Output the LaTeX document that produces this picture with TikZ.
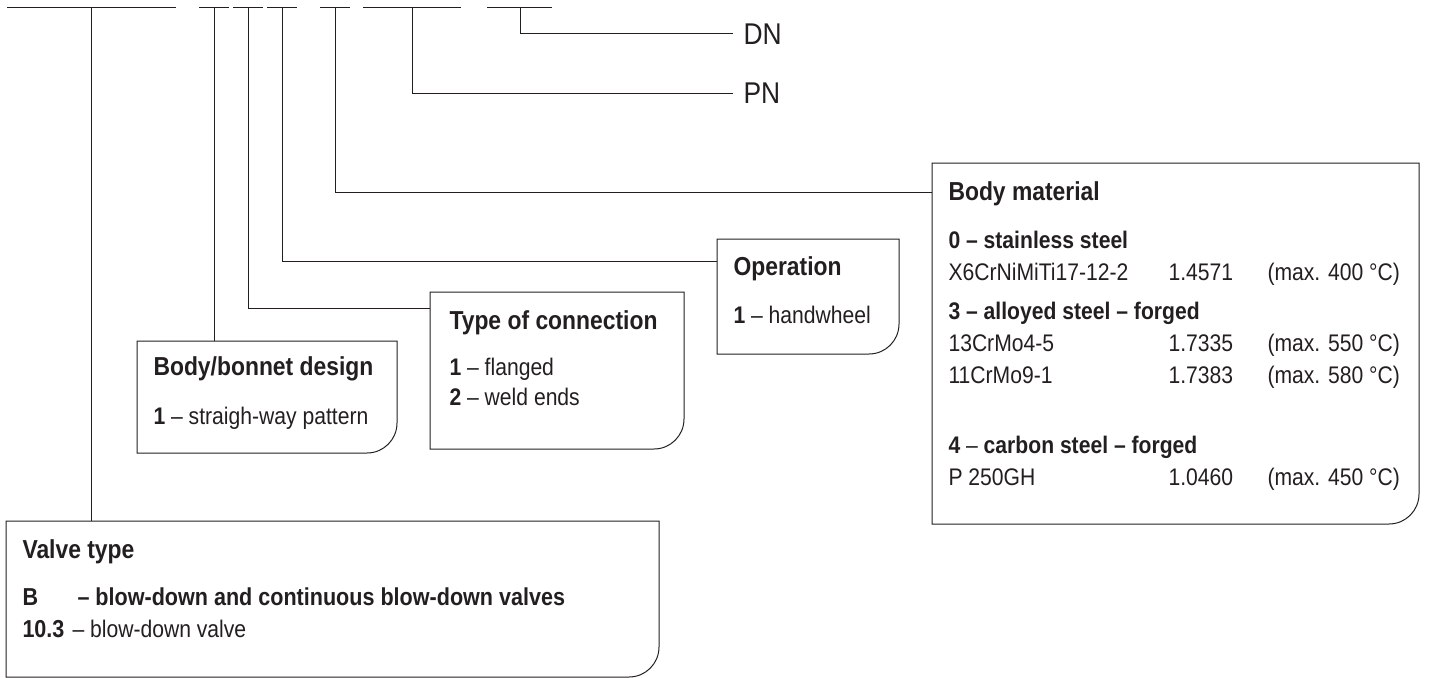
\documentclass[tikz,border=0pt]{standalone}
\usepackage{fontspec}
\setmainfont[FakeStretch=0.88]{Liberation Sans}
\definecolor{ink}{HTML}{231F20}

\begin{document}
\begin{tikzpicture}[
    x=1pt, y=1pt,
    color=ink, line width=1pt,
    head/.style={font=\fontsize{26}{30}\selectfont\bfseries, anchor=base west, inner sep=0pt},
    entry/.style={font=\fontsize{24}{28}\selectfont, anchor=base west, inner sep=0pt},
    code/.style={font=\fontsize{30}{36}\selectfont, anchor=west, inner xsep=10pt, inner ysep=0pt},
    panel/.style={anchor=north west, inner sep=0pt}
]
    \useasboundingbox (0,0) rectangle (1431,-677);

    % Type code bar (one dash per code position)
    \draw (7,-8) -- (176,-8);
    \draw (199,-8) -- (229,-8);
    \draw (233,-8) -- (263,-8);
    \draw (267,-8) -- (297,-8);
    \draw (320,-8) -- (350,-8);
    \draw (363,-8) -- (461,-8);
    \draw (487,-8) -- (552,-8);

    \coordinate (drop1) at (91,-8);
    \coordinate (drop2) at (214,-8);
    \coordinate (drop3) at (248,-8);
    \coordinate (drop4) at (282,-8);
    \coordinate (drop5) at (335,-8);
    \coordinate (drop6) at (412,-8);
    \coordinate (drop7) at (520,-8);

    % Panels (only the lower right corner is rounded)
    \node[panel, minimum width=652pt, minimum height=155pt] (valve) at (6,-521) {};
    \node[panel, minimum width=259pt, minimum height=111pt] (bonnet) at (137,-341) {};
    \node[panel, minimum width=253pt, minimum height=156pt] (conn) at (430,-292) {};
    \node[panel, minimum width=181pt, minimum height=114pt] (operation) at (717,-239) {};
    \node[panel, minimum width=486pt, minimum height=360pt] (material) at (932,-163) {};

    \draw (valve.north west) -- (valve.north east) -- ([yshift=30pt]valve.south east)
        arc[start angle=0, end angle=-90, radius=30] -- (valve.south west) -- cycle;
    \draw (bonnet.north west) -- (bonnet.north east) -- ([yshift=30pt]bonnet.south east)
        arc[start angle=0, end angle=-90, radius=30] -- (bonnet.south west) -- cycle;
    \draw (conn.north west) -- (conn.north east) -- ([yshift=30pt]conn.south east)
        arc[start angle=0, end angle=-90, radius=30] -- (conn.south west) -- cycle;
    \draw (operation.north west) -- (operation.north east) -- ([yshift=30pt]operation.south east)
        arc[start angle=0, end angle=-90, radius=30] -- (operation.south west) -- cycle;
    \draw (material.north west) -- (material.north east) -- ([yshift=30pt]material.south east)
        arc[start angle=0, end angle=-90, radius=30] -- (material.south west) -- cycle;

    % DN / PN
    \node[code] (dn) at (733,-34) {DN};
    \node[code] (pn) at (733,-93) {PN};

    % Leaders from the code bar
    \draw (drop1) -- (drop1 |- valve.north);
    \draw (drop2) -- (drop2 |- bonnet.north);
    \draw (drop3) |- (conn.west |- 0,-308);
    \draw (drop4) |- (operation.west |- 0,-261);
    \draw (drop5) |- (material.west |- 0,-192);
    \draw (drop6) |- (pn.west);
    \draw (drop7) |- (dn.west);

    % Valve type
    \node[head] (valvehead) at (22,-558) {Valve type};
    \node[entry, font=\fontsize{24.5}{28}\selectfont\bfseries] (valveB) at (22,-605) {B};
    \node[entry, font=\fontsize{24.5}{28}\selectfont\bfseries] (valveBtxt) at (77,-605) {– blow-down and continuous blow-down valves};
    \node[entry, font=\fontsize{24.5}{28}\selectfont\bfseries] (valvenum) at (22,-637) {10.3};
    \node[entry] (valvenumtxt) at (72,-637) {– blow-down valve};

    % Body/bonnet design
    \node[head] (bonnethead) at (153,-375) {Body/bonnet design};
    \node[entry] (bonnet1) at (153,-424) {\textbf{1} – straigh-way pattern};

    % Type of connection
    \node[head] (connhead) at (449,-329) {Type of connection};
    \node[entry] (conn1) at (449,-375) {\textbf{1} – flanged};
    \node[entry] (conn2) at (449,-405) {\textbf{2} – weld ends};

    % Operation
    \node[head] (ophead) at (733,-275) {Operation};
    \node[entry] (op1) at (733,-323) {\textbf{1} – handwheel};

    % Body material
    \node[head] (mathead) at (948,-200) {Body material};
    \node[entry] (mat0) at (948,-248) {\textbf{0 – stainless steel}};
    \node[entry] (x6name) at (948,-280) {X6CrNiMiTi17-12-2};
    \node[entry] (x6no) at (1168,-280) {1.4571};
    \node[entry] (x6max) at (1267,-280) {(max. 400 °C)};
    \node[entry] (mat3) at (948,-319) {\textbf{3 – alloyed steel – forged}};
    \node[entry] (crmoaname) at (948,-351) {13CrMo4-5};
    \node[entry] (crmoano) at (1168,-351) {1.7335};
    \node[entry] (crmoamax) at (1267,-351) {(max. 550 °C)};
    \node[entry] (crmobname) at (948,-383) {11CrMo9-1};
    \node[entry] (crmobno) at (1168,-383) {1.7383};
    \node[entry] (crmobmax) at (1267,-383) {(max. 580 °C)};
    \node[entry] (mat4) at (948,-453) {\textbf{4} – \textbf{carbon steel – forged}};
    \node[entry] (ghname) at (948,-485) {P 250GH};
    \node[entry] (ghno) at (1168,-485) {1.0460};
    \node[entry] (ghmax) at (1267,-485) {(max. 450 °C)};
\end{tikzpicture}
\end{document}
